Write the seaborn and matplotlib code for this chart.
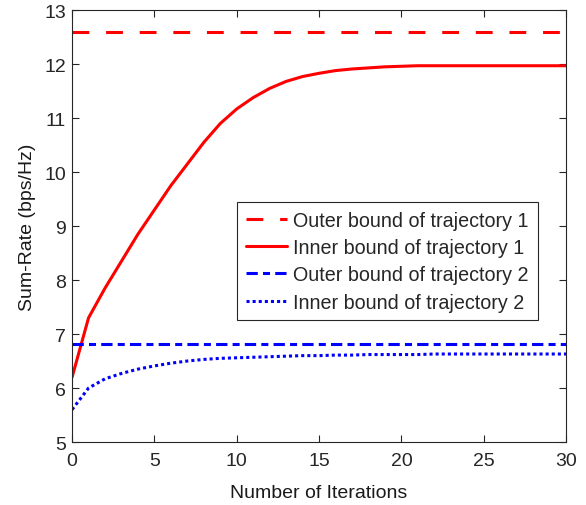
import numpy as np
import pandas as pd
import matplotlib
matplotlib.use('Agg')
import matplotlib.pyplot as plt
import seaborn as sns

# Data
iterations = list(range(0, 31))
inner_traj1 = [6.2, 7.3, 7.85, 8.35, 8.85, 9.3, 9.75, 10.15, 10.55, 10.9,
               11.17, 11.38, 11.55, 11.68, 11.77, 11.83, 11.88, 11.91, 11.93, 11.95,
               11.96, 11.97, 11.97, 11.97, 11.97, 11.97, 11.97, 11.97, 11.97, 11.97, 11.97]
inner_traj2 = [5.6, 6.0, 6.17, 6.27, 6.35, 6.41, 6.46, 6.5, 6.53, 6.55,
               6.56, 6.57, 6.58, 6.59, 6.6, 6.6, 6.61, 6.61, 6.62, 6.62,
               6.62, 6.62, 6.63, 6.63, 6.63, 6.63, 6.63, 6.63, 6.63, 6.63, 6.63]
outer_traj1 = 12.6
outer_traj2 = 6.82

df = pd.DataFrame({
    'iter': iterations,
    'outer1': [outer_traj1] * len(iterations),
    'inner1': inner_traj1,
    'outer2': [outer_traj2] * len(iterations),
    'inner2': inner_traj2,
})

sns.set_style('ticks')
plt.rcParams['font.family'] = ['Liberation Sans', 'DejaVu Sans']
plt.rcParams['font.size'] = 14

fig = plt.figure(figsize=(5.86, 5.06), dpi=100)
ax = fig.add_axes([0.123, 0.1245, 0.843, 0.8535])

lw = 2.2
sns.lineplot(data=df, x='iter', y='outer1', ax=ax, color='#ff0000', lw=lw,
             linestyle=(0, (5.5, 5.5)), label='Outer bound of trajectory 1')
sns.lineplot(data=df, x='iter', y='inner1', ax=ax, color='#ff0000', lw=lw,
             linestyle='-', label='Inner bound of trajectory 1')
sns.lineplot(data=df, x='iter', y='outer2', ax=ax, color='#0000ff', lw=lw,
             linestyle=(0, (3.7, 1.7, 2.3, 1.7)), label='Outer bound of trajectory 2')
sns.lineplot(data=df, x='iter', y='inner2', ax=ax, color='#0000ff', lw=lw,
             linestyle=(0, (1, 1)), label='Inner bound of trajectory 2')
for ln in ax.lines:
    ln.set_dash_capstyle('butt')

ax.set_xlim(0, 30)
ax.set_ylim(5, 13)
ax.set_xticks(range(0, 31, 5))
ax.set_yticks(range(5, 14))
ax.set_xlabel('Number of Iterations', color='#1a1a1a', labelpad=11)
ax.set_ylabel('Sum-Rate (bps/Hz)', color='#1a1a1a', labelpad=6)
ax.tick_params(direction='in', length=5, width=0.8, top=True, right=True,
               colors='#262626', labelsize=14)
ax.tick_params(axis='x', pad=7)
ax.tick_params(axis='y', pad=4.5)
for s in ax.spines.values():
    s.set_color('#262626')
    s.set_linewidth(0.8)

leg = ax.legend(loc='upper left', bbox_to_anchor=(0.334, 0.556), borderaxespad=0,
                fontsize=14.2, handlelength=2.1, handletextpad=0.3,
                labelspacing=0.42, fancybox=False, framealpha=1,
                borderpad=0.45)
leg.get_frame().set_edgecolor('#262626')
leg.get_frame().set_linewidth(0.8)

fig.savefig('out.png', dpi=100)
